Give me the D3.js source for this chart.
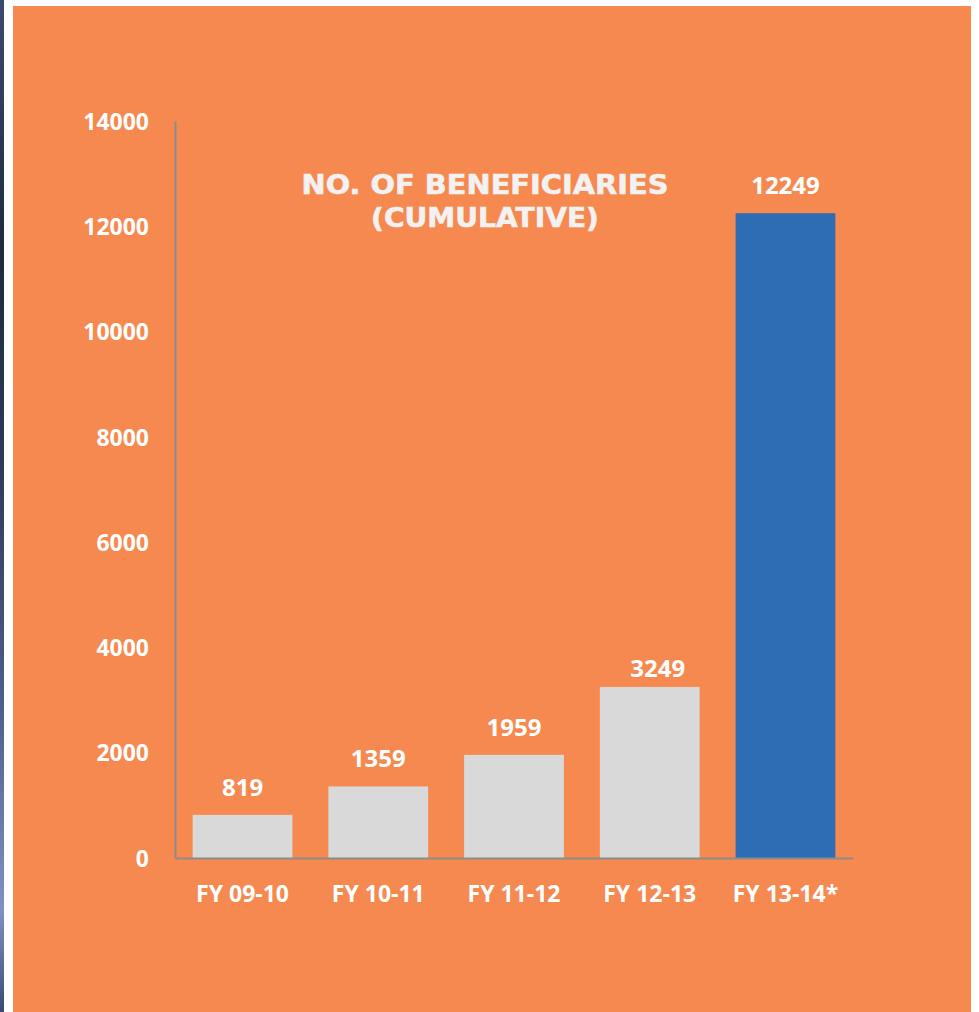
<!DOCTYPE html>
<html>
<head>
<meta charset="utf-8">
<script src="https://cdn.jsdelivr.net/npm/d3@7"></script>
<style>
  html, body { margin: 0; padding: 0; background: #ffffff; }
  svg { display: block; }
</style>
</head>
<body>
<script>
// Chart data
const categories = ["FY 09-10", "FY 10-11", "FY 11-12", "FY 12-13", "FY 13-14*"];
const beneficiaries = [819, 1359, 1959, 3249, 12249];
const barColors = ["#d9d9d9", "#d9d9d9", "#d9d9d9", "#d9d9d9", "#2e6db3"];
const yTicks = [0, 2000, 4000, 6000, 8000, 10000, 12000, 14000];
const titleLines = ["NO. OF BENEFICIARIES", "(CUMULATIVE)"];

const W = 979, H = 1012;
const svg = d3.select("body").append("svg").attr("width", W).attr("height", H);

// Dark photo strip on the left edge
const defs = svg.append("defs");
const grad = defs.append("linearGradient").attr("id", "strip").attr("x1", 0).attr("y1", 0).attr("x2", 0).attr("y2", 1);
[[0, "#3b4a6e"], [0.25, "#1f2a3e"], [0.45, "#2c3a58"], [0.7, "#4e5f8c"], [0.9, "#7d92c4"], [1, "#3a4a72"]]
  .forEach(([o, c]) => grad.append("stop").attr("offset", o).attr("stop-color", c));
svg.append("rect").attr("x", 0).attr("y", 0).attr("width", 4).attr("height", H).attr("fill", "url(#strip)");

// Orange panel
svg.append("rect").attr("x", 13).attr("y", 6).attr("width", 958).attr("height", H - 6).attr("fill", "#f6894f");

const x = d3.scaleBand().domain(categories).range([175, 853]).paddingInner(0.265).paddingOuter(0.13);
const y = d3.scaleLinear().domain([0, 14000]).range([858, 121]);

const font = "'Open Sans', 'Liberation Sans', sans-serif";

// Bars
svg.append("g").selectAll("rect").data(beneficiaries).join("rect")
  .attr("x", (d, i) => x(categories[i]))
  .attr("y", d => y(d))
  .attr("width", x.bandwidth())
  .attr("height", d => y(0) - y(d))
  .attr("fill", (d, i) => barColors[i]);

// Value labels (the FY 12-13 label sits slightly right of and closer to its bar)
const labelShift = (i) => i === 3 ? { dx: 8, dy: 9 } : { dx: 0, dy: 0 };
svg.append("g").selectAll("text").data(beneficiaries).join("text")
  .attr("x", (d, i) => x(categories[i]) + x.bandwidth() / 2 + labelShift(i).dx)
  .attr("y", (d, i) => y(d) - 19 + labelShift(i).dy)
  .attr("text-anchor", "middle")
  .attr("fill", "#ffffff")
  .attr("font-family", font).attr("font-weight", 700).attr("font-size", 24)
  .text(d => d);

// Y axis
const yAxis = svg.append("g").attr("transform", "translate(175,0)")
  .call(d3.axisLeft(y).tickValues(yTicks).tickSize(0).tickPadding(26).tickFormat(d3.format("d")));
yAxis.select(".domain").attr("stroke", "#8c8c8c").attr("stroke-width", 2);
yAxis.selectAll("text").attr("fill", "#ffffff").attr("font-family", font)
  .attr("font-weight", 700).attr("font-size", 23).attr("dy", "0.36em");

// X axis
const xAxis = svg.append("g").attr("transform", "translate(0,858)")
  .call(d3.axisBottom(x).tickSize(0).tickPadding(28));
xAxis.select(".domain").attr("stroke", "#8c8c8c").attr("stroke-width", 2);
xAxis.selectAll("text").attr("fill", "#ffffff").attr("font-family", font)
  .attr("font-weight", 700).attr("font-size", 23).attr("dy", "0.71em");

// Title: heavy wide face, each line scaled horizontally to its width
const titleWidths = [367, 228];
const titleX = 485;
svg.append("g").selectAll("g").data(titleLines).join("g")
  .attr("transform", (d, i) => `translate(${titleX},${194 + i * 33})`)
  .append("text")
  .attr("text-anchor", "middle")
  .attr("fill", "#f2f2f2")
  .attr("stroke", "#f2f2f2").attr("stroke-width", 0.6)
  .attr("font-family", "'DejaVu Sans', Verdana, sans-serif")
  .attr("font-weight", 700).attr("font-size", 27)
  .text(d => d)
  .each(function (d, i) {
    const w = this.getComputedTextLength();
    d3.select(this).attr("transform", `scale(${titleWidths[i] / w},1)`);
  });
</script>
</body>
</html>
